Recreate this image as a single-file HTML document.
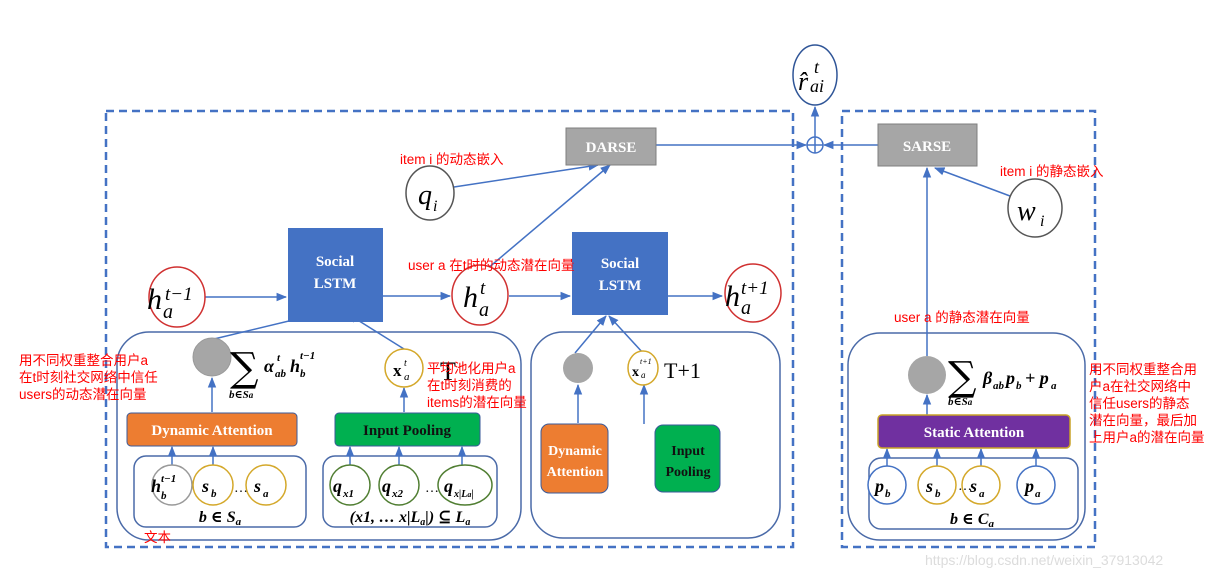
<!DOCTYPE html>
<html><head><meta charset="utf-8"><style>
html,body{margin:0;padding:0;background:#fff;}
svg{display:block;}
.m{font-family:"Liberation Serif","DejaVu Serif",serif;font-style:italic;}
.mb{font-family:"Liberation Serif","DejaVu Serif",serif;font-style:italic;font-weight:bold;}
.b{font-family:"Liberation Serif",serif;font-weight:bold;}
.r{font-family:"Liberation Sans","Noto Sans CJK SC",sans-serif;fill:#ff0000;font-size:13.5px;}
</style></head><body>
<svg width="1206" height="578" viewBox="0 0 1206 578" xmlns="http://www.w3.org/2000/svg">
<defs>
<marker id="a" viewBox="0 0 10 10" refX="9" refY="5" markerWidth="7" markerHeight="7" orient="auto"><path d="M0,1 L10,5 L0,9 z" fill="#4472c4"/></marker>
</defs>
<g fill="none" stroke="#4472c4" stroke-width="2.5" stroke-dasharray="8,5">
<rect x="106" y="111" width="687" height="436"/>
<rect x="842" y="111" width="253" height="436"/>
</g>
<g fill="none" stroke="#4a6aa8" stroke-width="1.5">
<rect x="117" y="332" width="404" height="208" rx="32"/>
<rect x="531" y="332" width="249" height="206" rx="32"/>
<rect x="848" y="333" width="237" height="207" rx="32"/>
<rect x="134" y="456" width="172" height="71" rx="12"/>
<rect x="323" y="456" width="174" height="71" rx="12"/>
<rect x="869" y="458" width="209" height="71" rx="12"/>
</g>
<g stroke="#4472c4" stroke-width="1.5" fill="none" marker-end="url(#a)">
<line x1="205" y1="297" x2="286" y2="297"/>
<line x1="383" y1="296" x2="450" y2="296"/>
<line x1="509" y1="296" x2="570" y2="296"/>
<line x1="668" y1="296" x2="722" y2="296"/>
<line x1="454" y1="187" x2="598" y2="165"/>
<line x1="487" y1="269" x2="610" y2="165"/>
<line x1="214" y1="339" x2="318" y2="314"/>
<line x1="404" y1="349" x2="348" y2="314"/>
<line x1="575" y1="353" x2="606" y2="316"/>
<line x1="643" y1="353" x2="609" y2="316"/>
<line x1="212" y1="412" x2="212" y2="378"/>
<line x1="404" y1="412" x2="404" y2="388"/>
<line x1="578" y1="423" x2="578" y2="385"/>
<line x1="644" y1="424" x2="644" y2="385"/>
<line x1="172" y1="465" x2="172" y2="447"/>
<line x1="213" y1="465" x2="213" y2="447"/>
<line x1="350" y1="465" x2="350" y2="447"/>
<line x1="399" y1="465" x2="399" y2="447"/>
<line x1="462" y1="465" x2="462" y2="447"/>
<line x1="927" y1="415" x2="927" y2="395"/>
<line x1="927" y1="356" x2="927" y2="168"/>
<line x1="1010" y1="196" x2="935" y2="168"/>
<line x1="887" y1="466" x2="887" y2="449"/>
<line x1="937" y1="466" x2="937" y2="449"/>
<line x1="981" y1="466" x2="981" y2="449"/>
<line x1="1036" y1="466" x2="1036" y2="449"/>
<line x1="656" y1="145" x2="806" y2="145"/>
<line x1="878" y1="145" x2="824" y2="145"/>
<line x1="815" y1="138" x2="815" y2="107"/>
</g>
<circle cx="815" cy="145" r="8" fill="#fff" stroke="#4472c4" stroke-width="1.5"/>
<line x1="807" y1="145" x2="823" y2="145" stroke="#4472c4" stroke-width="1.5"/>
<line x1="815" y1="137" x2="815" y2="153" stroke="#4472c4" stroke-width="1.5"/>
<ellipse cx="815" cy="75" rx="22" ry="30" fill="#fff" stroke="#2f5597" stroke-width="1.5"/>
<text x="798" y="90" class="m" font-size="26">r̂</text><text x="814" y="73" class="m" font-size="18">t</text><text x="810" y="92" class="m" font-size="18">ai</text>
<rect x="566" y="128" width="90" height="37" fill="#a6a6a6" stroke="#7f7f7f"/>
<text x="611" y="152" text-anchor="middle" class="b" font-size="15" fill="#fff">DARSE</text>
<rect x="878" y="124" width="99" height="42" fill="#a6a6a6" stroke="#7f7f7f"/>
<text x="927" y="151" text-anchor="middle" class="b" font-size="15" fill="#fff">SARSE</text>
<ellipse cx="430" cy="193" rx="24" ry="27" fill="#fff" stroke="#555" stroke-width="1.5"/>
<text x="418" y="204" class="m" font-size="28">q</text><text x="433" y="211" class="m" font-size="16">i</text>
<ellipse cx="1035" cy="208" rx="27" ry="29" fill="#fff" stroke="#555" stroke-width="1.5"/>
<text x="1017" y="220" class="m" font-size="28">w</text><text x="1040" y="226" class="m" font-size="16">i</text>
<rect x="288" y="228" width="95" height="94" fill="#4472c4"/>
<text x="335" y="266" text-anchor="middle" class="b" font-size="15" fill="#fff">Social</text>
<text x="335" y="288" text-anchor="middle" class="b" font-size="15" fill="#fff">LSTM</text>
<rect x="572" y="232" width="96" height="83" fill="#4472c4"/>
<text x="620" y="268" text-anchor="middle" class="b" font-size="15" fill="#fff">Social</text>
<text x="620" y="290" text-anchor="middle" class="b" font-size="15" fill="#fff">LSTM</text>
<g fill="#fff" stroke="#d03030" stroke-width="1.5">
<ellipse cx="177" cy="297" rx="28" ry="30"/>
<ellipse cx="480" cy="295" rx="28" ry="30"/>
<ellipse cx="753" cy="293" rx="28" ry="29"/>
</g>
<text x="147" y="309" class="m" font-size="30">h</text><text x="163" y="318" class="m" font-size="20">a</text><text x="165" y="300" class="m" font-size="19">t−1</text>
<text x="463" y="307" class="m" font-size="30">h</text><text x="479" y="316" class="m" font-size="20">a</text><text x="480" y="294" class="m" font-size="19">t</text>
<text x="725" y="306" class="m" font-size="30">h</text><text x="741" y="314" class="m" font-size="20">a</text><text x="741" y="294" class="m" font-size="19">t+1</text>
<circle cx="212" cy="357" r="19" fill="#a6a6a6" stroke="#999"/>
<text x="230" y="381" font-family="DejaVu Serif,serif" font-size="40">∑</text>
<text x="229" y="398" class="mb" font-size="11">b∈S<tspan font-size="9">a</tspan></text>
<text x="264" y="372" class="mb" font-size="18">α</text><text x="277" y="361" class="mb" font-size="11">t</text><text x="275" y="377" class="mb" font-size="11">ab</text>
<text x="290" y="372" class="mb" font-size="18">h</text><text x="300" y="359" class="mb" font-size="11">t−1</text><text x="300" y="377" class="mb" font-size="11">b</text>
<circle cx="404" cy="368" r="19" fill="#fff" stroke="#d4a82a" stroke-width="1.5"/>
<text x="393" y="376" class="b" font-size="17">x</text><text x="404" y="366" class="m" font-size="10">t</text><text x="404" y="380" class="m" font-size="11">a</text>
<text x="440" y="380" font-family="Liberation Serif,serif" font-size="26">T</text>
<rect x="127" y="413" width="170" height="33" rx="4" fill="#ed7d31" stroke="#3a5a9a"/>
<text x="212" y="435" text-anchor="middle" class="b" font-size="15" fill="#fff">Dynamic  Attention</text>
<rect x="335" y="413" width="145" height="33" rx="4" fill="#00b050" stroke="#3a5a9a"/>
<text x="407" y="435" text-anchor="middle" class="b" font-size="15" fill="#111">Input Pooling</text>
<circle cx="172" cy="485" r="20" fill="#fff" stroke="#999" stroke-width="1.5"/>
<text x="151" y="492" class="mb" font-size="18">h</text><text x="161" y="499" class="mb" font-size="11">b</text><text x="161" y="482" class="mb" font-size="11">t−1</text>
<circle cx="213" cy="485" r="20" fill="#fff" stroke="#d4a82a" stroke-width="1.5"/>
<text x="202" y="492" class="mb" font-size="18">s</text><text x="211" y="497" class="mb" font-size="11">b</text>
<text x="234" y="492" font-size="14" font-family="Liberation Serif,serif">…</text>
<circle cx="266" cy="485" r="20" fill="#fff" stroke="#d4a82a" stroke-width="1.5"/>
<text x="254" y="492" class="mb" font-size="18">s</text><text x="263" y="497" class="mb" font-size="11">a</text>
<text x="220" y="522" text-anchor="middle" class="mb" font-size="16">b ∈ S<tspan font-size="11" dy="3">a</tspan></text>
<g fill="#fff" stroke="#507e32" stroke-width="1.5">
<circle cx="350" cy="485" r="20"/><circle cx="399" cy="485" r="20"/><ellipse cx="465" cy="485" rx="27" ry="20"/>
</g>
<text x="333" y="492" class="mb" font-size="18">q</text><text x="343" y="497" class="mb" font-size="11">x1</text>
<text x="382" y="492" class="mb" font-size="18">q</text><text x="392" y="497" class="mb" font-size="11">x2</text>
<text x="425" y="492" font-size="14">…</text>
<text x="444" y="492" class="mb" font-size="18">q</text><text x="454" y="497" class="mb" font-size="10">x|L<tspan font-size="8">a</tspan>|</text>
<text x="410" y="522" text-anchor="middle" class="mb" font-size="16">(x1, … x|L<tspan font-size="10" dy="3">a</tspan><tspan dy="-3">|) ⊆ L</tspan><tspan font-size="10" dy="3">a</tspan></text>
<circle cx="578" cy="368" r="15" fill="#a6a6a6"/>
<ellipse cx="643" cy="368" rx="15" ry="17" fill="#fff" stroke="#d4a82a" stroke-width="1.5"/>
<text x="632" y="376" class="b" font-size="14">x</text><text x="640" y="364" class="m" font-size="8">t+1</text><text x="641" y="378" class="m" font-size="9">a</text>
<text x="664" y="378" font-family="Liberation Serif,serif" font-size="22">T+1</text>
<rect x="541" y="424" width="67" height="69" rx="8" fill="#ed7d31" stroke="#3a5a9a"/>
<text x="575" y="455" text-anchor="middle" class="b" font-size="14" fill="#fff">Dynamic</text>
<text x="575" y="476" text-anchor="middle" class="b" font-size="14" fill="#fff">Attention</text>
<rect x="655" y="425" width="65" height="67" rx="8" fill="#00b050" stroke="#3a5a9a"/>
<text x="688" y="455" text-anchor="middle" class="b" font-size="14" fill="#111">Input</text>
<text x="688" y="476" text-anchor="middle" class="b" font-size="14" fill="#111">Pooling</text>
<circle cx="927" cy="375" r="19" fill="#a6a6a6"/>
<text x="948" y="390" font-family="DejaVu Serif,serif" font-size="40">∑</text>
<text x="948" y="405" class="mb" font-size="11">b∈S<tspan font-size="9">a</tspan></text>
<text x="983" y="384" class="mb" font-size="18">β</text><text x="993" y="389" class="mb" font-size="11">ab</text>
<text x="1006" y="384" class="mb" font-size="18">p</text><text x="1016" y="389" class="mb" font-size="11">b</text>
<text x="1025" y="384" class="mb" font-size="18">+ p</text><text x="1051" y="389" class="mb" font-size="11">a</text>
<rect x="878" y="415" width="192" height="33" rx="4" fill="#7030a0" stroke="#c9a227" stroke-width="1.5"/>
<text x="974" y="437" text-anchor="middle" class="b" font-size="15" fill="#fff">Static Attention</text>
<circle cx="887" cy="485" r="19" fill="#fff" stroke="#4472c4" stroke-width="1.5"/>
<circle cx="937" cy="485" r="19" fill="#fff" stroke="#d4a82a" stroke-width="1.5"/>
<circle cx="981" cy="485" r="19" fill="#fff" stroke="#d4a82a" stroke-width="1.5"/>
<circle cx="1036" cy="485" r="19" fill="#fff" stroke="#4472c4" stroke-width="1.5"/>
<text x="875" y="492" class="mb" font-size="18">p</text><text x="885" y="497" class="mb" font-size="11">b</text>
<text x="926" y="492" class="mb" font-size="18">s</text><text x="935" y="497" class="mb" font-size="11">b</text>
<text x="958" y="490" font-size="14">…</text>
<text x="970" y="492" class="mb" font-size="18">s</text><text x="979" y="497" class="mb" font-size="11">a</text>
<text x="1025" y="492" class="mb" font-size="18">p</text><text x="1035" y="497" class="mb" font-size="11">a</text>
<text x="972" y="524" text-anchor="middle" class="mb" font-size="16">b ∈ C<tspan font-size="11" dy="3">a</tspan></text>
<text x="400" y="164" class="r">item i 的动态嵌入</text>
<text x="408" y="270" class="r">user a 在t时的动态潜在向量</text>
<text x="1000" y="176" class="r">item i 的静态嵌入</text>
<text x="894" y="322" class="r">user a 的静态潜在向量</text>
<text x="19" y="365" class="r">用不同权重整合用户a</text>
<text x="19" y="382" class="r">在t时刻社交网络中信任</text>
<text x="19" y="399" class="r">users的动态潜在向量</text>
<text x="427" y="373" class="r">平均池化用户a</text>
<text x="427" y="390" class="r">在t时刻消费的</text>
<text x="427" y="407" class="r">items的潜在向量</text>
<text x="1089" y="374" class="r">用不同权重整合用</text>
<text x="1089" y="391" class="r">户a在社交网络中</text>
<text x="1089" y="408" class="r">信任users的静态</text>
<text x="1089" y="425" class="r">潜在向量，最后加</text>
<text x="1089" y="442" class="r">上用户a的潜在向量</text>
<text x="144" y="542" class="r" font-size="12">文本</text>
<text x="925" y="565" font-family="Liberation Sans,sans-serif" font-size="14" fill="#dcdcdc">https://blog.csdn.net/weixin_37913042</text>
</svg>
</body></html>
